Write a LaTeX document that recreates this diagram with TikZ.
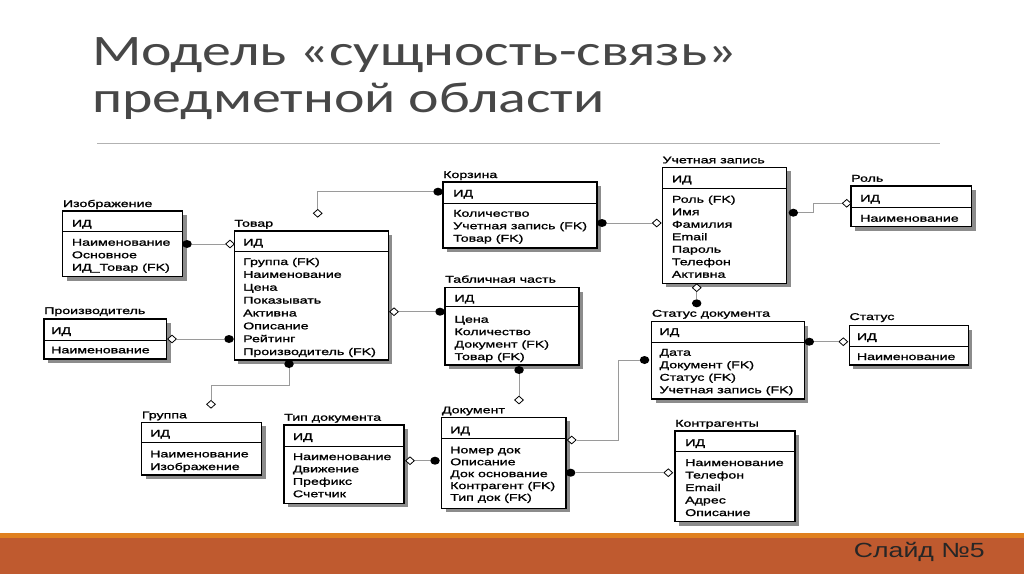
\documentclass[tikz,border=0pt]{standalone}
\usepackage{fontspec}
\setmainfont{Liberation Sans}
\newfontfamily\erfont[FakeStretch=1.45,FakeBold=1.3]{Liberation Sans}
\newfontfamily\ttlfont[FakeStretch=1.33]{Carlito}
\newfontfamily\footfont[FakeStretch=1.3]{Liberation Sans}
\usetikzlibrary{shapes.geometric}
\definecolor{ttlgray}{HTML}{474747}
\definecolor{rust}{HTML}{BF5A2F}
\definecolor{orstrip}{HTML}{E0801F}
\definecolor{shadowgray}{HTML}{8C8C8C}
\definecolor{conngray}{HTML}{9A9A9A}
\tikzset{
  ershadow/.style={fill=shadowgray},
  erbox/.style={draw=black, line width=1.1, fill=white, inner sep=0, outer sep=0},
  ersep/.style={draw=black, line width=1},
  ertitle/.style={anchor=base west, inner sep=0, font=\erfont\fontsize{9.8}{12}\selectfont},
  ertext/.style={anchor=base west, inner sep=0, font=\erfont\fontsize{9.8}{12}\selectfont},
  erdot/.style={ellipse, fill=black, inner sep=0, minimum width=9.5, minimum height=8},
  erdia/.style={diamond, draw=black, fill=white, line width=0.8, inner sep=0, minimum width=9, minimum height=8},
  conn/.style={draw=conngray, line width=0.9},
}
\newcommand\erent[8]{%
  \fill[ershadow] ({#2+4},{#3+4}) rectangle ({#4+4},{#6+4});
  \node[erbox, minimum width={#4-#2}, minimum height={#6-#3}] (#1) at ({(#2+#4)/2},{(#3+#6)/2}) {};
  \draw[ersep] (#2,#5) -- (#4,#5);
  \node[ertitle] (#1-title) at (#2,#8) {#7};
}
\newcommand\errows[6]{%
  \node[ertext] (#1-id) at (#2,#3) {ИД};
  \foreach \t [count=\i from 0] in {#6} {\node[ertext] (#1-r\i) at (#2,{#4+\i*#5}) {\t};}
}
\begin{document}
\begin{tikzpicture}[x=1pt,y=-1pt]
\useasboundingbox (0,0) rectangle (1024,574);
\fill[white] (0,0) rectangle (1024,574);
% title
\node[anchor=base west, inner sep=0, text=ttlgray, font=\ttlfont\fontsize{43.5}{47}\selectfont] (t1) at (92,65) {Модель «сущность-связь»};
\node[anchor=base west, inner sep=0, text=ttlgray, font=\ttlfont\fontsize{43.5}{47}\selectfont] (t2) at (92,112) {предметной области};
\draw[black!30, line width=1] (97,143) -- (940,143);
% footer
\fill[orstrip] (0,533) rectangle (1024,538);
\fill[rust] (0,538) rectangle (1024,574);
\node[anchor=base east, inner sep=0, text=black!85, font=\footfont\fontsize{20.5}{24}\selectfont] (foot) at (985,557) {Слайд №5};

% entities
\erent{izo}{62.7}{211}{182.7}{231.7}{276.7}{Изображение}{207}
\errows{izo}{71.7}{226.7}{245.7}{12.5}{Наименование,Основное,ИД\_Товар (FK)}

\erent{tov}{234.3}{231}{388.3}{251.7}{360}{Товар}{226.7}
\errows{tov}{243}{245.7}{265}{12.86}{Группа (FK),Наименование,Цена,Показывать,Активна,Описание,Рейтинг,Производитель (FK)}

\erent{pro}{44}{319}{166.7}{340}{359}{Производитель}{314}
\errows{pro}{51}{334}{353.3}{12.5}{Наименование}

\erent{kor}{443}{182}{597}{203}{248}{Корзина}{178}
\errows{kor}{453}{196.7}{216.7}{12.5}{Количество,Учетная запись (FK),Товар (FK)}

\erent{tab}{445}{287.7}{579}{306.7}{365}{Табличная часть}{282.7}
\errows{tab}{454.3}{301.7}{322.7}{12.43}{Цена,Количество,Документ (FK),Товар (FK)}

\erent{uch}{662.3}{167.3}{786.7}{188.3}{283.3}{Учетная запись}{163.3}
\errows{uch}{671.7}{182.3}{202.7}{12.5}{Роль (FK),Имя,Фамилия,Email,Пароль,Телефон,Активна}

\erent{rol}{851}{186}{971.7}{207.3}{226.7}{Роль}{181.7}
\errows{rol}{860}{201.7}{221.7}{12.5}{Наименование}

\erent{sd}{651.7}{321.7}{804.3}{342.7}{399}{Статус документа}{316.7}
\errows{sd}{659.3}{335}{355.7}{12.5}{Дата,Документ (FK),Статус (FK),Учетная запись (FK)}

\erent{sta}{849.3}{325.7}{968.3}{346.7}{365}{Статус}{320}
\errows{sta}{856.7}{340}{360}{12.5}{Наименование}

\erent{gru}{141.7}{422.3}{261.7}{442.7}{475}{Группа}{418.3}
\errows{gru}{150}{436.7}{457.3}{12.7}{Наименование,Изображение}

\erent{tip}{284}{425}{404}{446}{503.3}{Тип документа}{420.7}
\errows{tip}{292.7}{440}{460}{12.4}{Наименование,Движение,Префикс,Счетчик}

\erent{doc}{441.7}{417.3}{566}{438.3}{508.3}{Документ}{413.3}
\errows{doc}{450}{433.3}{453.3}{11.9}{Номер док,Описание,Док основание,Контрагент (FK),Тип док (FK)}

\erent{kon}{675}{431}{795}{451.7}{521.7}{Контрагенты}{426.7}
\errows{kon}{685}{446}{466}{12.5}{Наименование,Телефон,Email,Адрес,Описание}

% markers
\node[erdot] (m1a) at (187,244) {};
\node[erdia] (m1b) at (230,244) {};
\node[erdia] (m2a) at (172,339) {};
\node[erdot] (m2b) at (229,339) {};
\node[erdia] (m3a) at (317.7,213.3) {};
\node[erdot] (m3b) at (438,191.7) {};
\node[erdia] (m4a) at (394,311.7) {};
\node[erdot] (m4b) at (440,311.7) {};
\node[erdot] (m5a) at (289,364) {};
\node[erdia] (m5b) at (211,404.3) {};
\coordinate (k5) at (250,385);
\node[erdot] (m6a) at (602,223) {};
\node[erdia] (m6b) at (656.7,223) {};
\node[erdot] (m7a) at (793.3,212.7) {};
\node[erdia] (m7b) at (846.7,203.3) {};
\coordinate (k7) at (813.3,208);
\node[erdia] (m8a) at (696.7,287.7) {};
\node[erdot] (m8b) at (696.7,303.3) {};
\node[erdot] (m9a) at (809.3,341.7) {};
\node[erdia] (m9b) at (843.3,341.7) {};
\node[erdot] (m10a) at (644.5,360) {};
\node[erdia] (m10b) at (571.7,440) {};
\coordinate (k10) at (618.3,400);
\node[erdot] (m11a) at (519,370) {};
\node[erdia] (m11b) at (519,400) {};
\node[erdia] (m12a) at (410,460.7) {};
\node[erdot] (m12b) at (435,460.7) {};
\node[erdot] (m13a) at (570.7,472.7) {};
\node[erdia] (m13b) at (668.3,472.7) {};

% connectors
\draw[conn] (m1a) -- (m1b);
\draw[conn] (m2a) -- (m2b);
\draw[conn] (m3a) |- (m3b);
\draw[conn] (m4a) -- (m4b);
\draw[conn] (m5a) |- (k5) -| (m5b);
\draw[conn] (m6a) -- (m6b);
\draw[conn] (m7a) -| (k7) |- (m7b);
\draw[conn] (m8a) -- (m8b);
\draw[conn] (m9a) -- (m9b);
\draw[conn] (m10a) -| (k10) |- (m10b);
\draw[conn] (m11a) -- (m11b);
\draw[conn] (m12a) -- (m12b);
\draw[conn] (m13a) -- (m13b);
\end{tikzpicture}
\end{document}
